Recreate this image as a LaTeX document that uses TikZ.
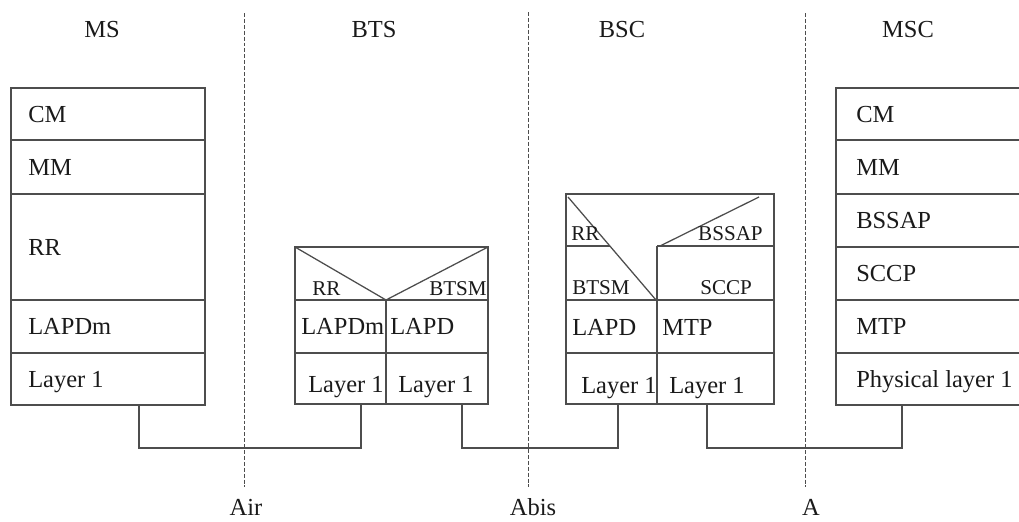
\documentclass[tikz,border=0pt]{standalone}
\usepackage{fontspec}
\setmainfont{Liberation Serif}
\usepackage{tikz}
\usetikzlibrary{arrows}
\definecolor{linegray}{HTML}{4D4D4D}
\definecolor{inkblack}{HTML}{1A1A1A}

\tikzset{
  layer/.style={anchor=base west, inner sep=0pt, text=inkblack, font=\fontsize{17.4}{20}\selectfont},
  layerr/.style={anchor=base east, inner sep=0pt, text=inkblack, font=\fontsize{15}{18}\selectfont},
  sublayer/.style={anchor=base west, inner sep=0pt, text=inkblack, font=\fontsize{15}{18}\selectfont},
  title/.style={anchor=base, inner sep=0pt, text=inkblack, font=\fontsize{17.4}{20}\selectfont},
  iface/.style={dashed, dash pattern=on 2.8pt off 1.4pt, line width=0.6pt, draw=linegray},
  stack/.style={line width=0.9pt, draw=linegray},
  wire/.style={line width=0.9pt, draw=linegray}
}

\begin{document}
\begin{tikzpicture}[x=0.025cm, y=-0.025cm]
           \useasboundingbox (0,0) rectangle (1019,521);

           % Entity titles
           \node[title] (ms) at (102,37) {MS};
           \node[title] (bts) at (374,37) {BTS};
           \node[title] (bsc) at (622,37) {BSC};
           \node[title] (msc) at (908,37) {MSC};

           % Air interface
           \coordinate (air-top) at (244,13);
           \coordinate (air-bot) at (244,487);
           \draw[iface] (air-top)--(air-bot);
           \node[title] (air) at (246,515) {Air};

           % Abis interface
           \coordinate (abis-top) at (528,12);
           \coordinate (abis-bot) at (528,487);
           \draw[iface] (abis-top)--(abis-bot);
           \node[title] (abis) at (533,515) {Abis};

           % A interface
           \coordinate (a-top) at (805,13);
           \coordinate (a-bot) at (805,487);
           \draw[iface] (a-top)--(a-bot);
           \node[title] (a) at (811,515) {A};

           % MS protocol stack
           \draw[stack] (11,88) rectangle (205,405);
           \draw[stack] (11,140)--(205,140);
           \draw[stack] (11,194)--(205,194);
           \draw[stack] (11,300)--(205,300);
           \draw[stack] (11,353)--(205,353);
           \node[layer] (ms-cm) at (28,122) {CM};
           \node[layer] (ms-mm) at (28,175) {MM};
           \node[layer] (ms-rr) at (28,255) {RR};
           \node[layer] (ms-lapdm) at (28,334) {LAPDm};
           \node[layer] (ms-l1) at (28,387) {Layer 1};

           % BTS protocol stack
           \draw[stack] (295,247) rectangle (488,404);
           \draw[stack] (295,300)--(488,300);
           \draw[stack] (295,353)--(488,353);
           \draw[stack] (386,300)--(386,404);
           \draw[stack] (295,247)--(386,300)--(488,247);
           \node[sublayer] (bts-rr) at (312,295) {RR};
           \node[layerr] (bts-btsm) at (487,295) {BTSM};
           \node[layer] (bts-lapdm) at (301,334) {LAPDm};
           \node[layer] (bts-lapd) at (390,334) {LAPD};
           \node[layer] (bts-l1a) at (308,392) {Layer 1};
           \node[layer] (bts-l1b) at (398,392) {Layer 1};

           % BSC protocol stack
           \draw[stack] (566,194) rectangle (774,404);
           \draw[stack] (566,246)--(610,246);
           \draw[stack] (657,246)--(774,246);
           \draw[stack] (566,300)--(774,300);
           \draw[stack] (566,353)--(774,353);
           \draw[stack] (657,246)--(657,404);
           \draw[stack] (568,197)--(656,300);
           \draw[stack] (660,246)--(759,197);
           \node[sublayer] (bsc-rr) at (571,240) {RR};
           \node[layerr] (bsc-bssap) at (763,240) {BSSAP};
           \node[sublayer] (bsc-btsm) at (572,294) {BTSM};
           \node[sublayer] (bsc-sccp) at (700,294) {SCCP};
           \node[layer] (bsc-lapd) at (572,335) {LAPD};
           \node[layer] (bsc-mtp) at (662,335) {MTP};
           \node[layer] (bsc-l1a) at (581,393) {Layer 1};
           \node[layer] (bsc-l1b) at (669,393) {Layer 1};

           % MSC protocol stack (cut at the right edge)
           \draw[stack] (1022,88)--(836,88)--(836,405)--(1022,405);
           \draw[stack] (836,140)--(1022,140);
           \draw[stack] (836,194)--(1022,194);
           \draw[stack] (836,247)--(1022,247);
           \draw[stack] (836,300)--(1022,300);
           \draw[stack] (836,353)--(1022,353);
           \node[layer] (msc-cm) at (856,122) {CM};
           \node[layer] (msc-mm) at (856,175) {MM};
           \node[layer] (msc-bssap) at (856,228) {BSSAP};
           \node[layer] (msc-sccp) at (856,281) {SCCP};
           \node[layer] (msc-mtp) at (856,334) {MTP};
           \node[layer] (msc-l1) at (856,387) {Physical layer 1};

           % Links between stacks
           \coordinate (ms-port) at (139,405);
           \coordinate (btsl-port) at (361,404);
           \coordinate (btsr-port) at (462,404);
           \coordinate (bscl-port) at (618,404);
           \coordinate (bscr-port) at (707,404);
           \coordinate (msc-port) at (902,405);
           \draw[wire] (ms-port) -- ++(0,43) -| (btsl-port);
           \draw[wire] (btsr-port) -- ++(0,44) -| (bscl-port);
           \draw[wire] (bscr-port) -- ++(0,44) -| (msc-port);

          \end{tikzpicture}
\end{document}
